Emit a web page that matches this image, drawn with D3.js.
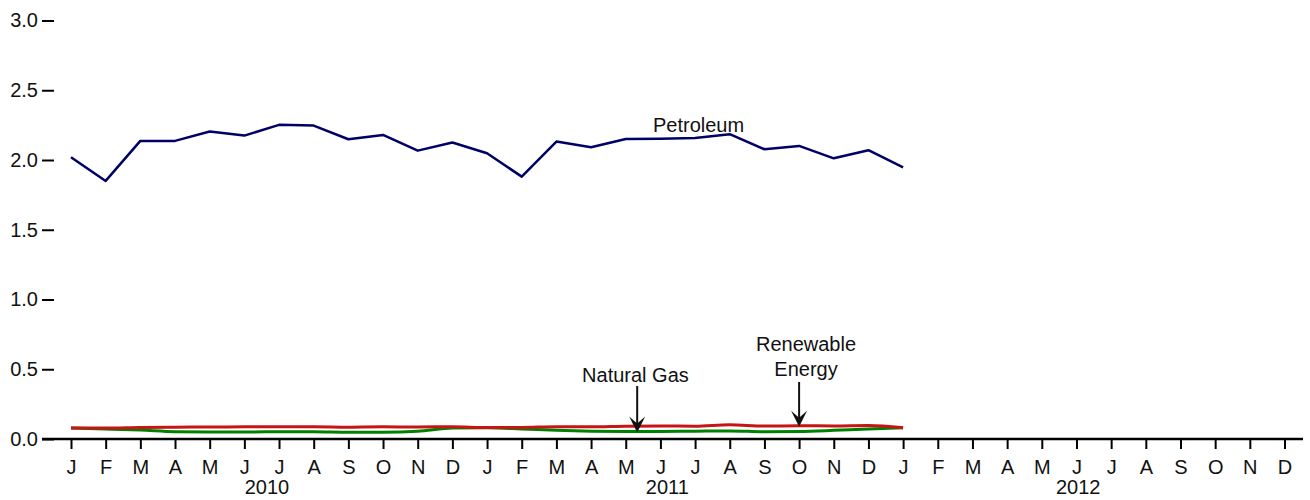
<!DOCTYPE html>
<html>
<head>
<meta charset="utf-8">
<script src="https://cdn.jsdelivr.net/npm/d3@7"></script>
<style>
  body { margin: 0; background: #fff; }
  svg { font-family: "Liberation Sans", Arial, sans-serif; }
</style>
</head>
<body>
<svg width="1310" height="500"></svg>
<script>
// monthly values, Jan 2010 .. Jan 2012 (quadrillion Btu)
var monthLetters = ["J","F","M","A","M","J","J","A","S","O","N","D"];
var years = [2010, 2011, 2012];
var yearLabelOffset = [5.65, 5.2, 5.05]; // month index within year where label is centered
var yTicks = [0, 0.5, 1.0, 1.5, 2.0, 2.5, 3.0];

var petroleum = [2.02, 1.85, 2.137, 2.137, 2.204, 2.175, 2.252, 2.247, 2.149, 2.18, 2.067, 2.125,
                 2.048, 1.881, 2.132, 2.091, 2.151, 2.153, 2.158, 2.185, 2.077, 2.101, 2.012, 2.07,
                 1.948];
var renewable = [0.078, 0.078, 0.083, 0.085, 0.086, 0.087, 0.088, 0.088, 0.085, 0.087, 0.086, 0.088,
                 0.082, 0.083, 0.088, 0.088, 0.092, 0.093, 0.092, 0.102, 0.093, 0.095, 0.094, 0.097,
                 0.080];
var naturalGas = [0.078, 0.072, 0.064, 0.052, 0.050, 0.050, 0.052, 0.052, 0.048, 0.048, 0.055, 0.078,
                  0.080, 0.072, 0.062, 0.056, 0.054, 0.054, 0.056, 0.058, 0.052, 0.054, 0.062, 0.072,
                  0.080];

var svg = d3.select("svg");

var x = d3.scaleLinear().domain([0, 35]).range([71, 1284.5]);
var y = d3.scaleLinear().domain([0, 3]).range([439, 20.5]);

// y axis: ticks only, no spine
var yAxis = d3.axisLeft(y)
  .tickValues(yTicks)
  .tickFormat(d3.format(".1f"))
  .tickSize(12)
  .tickPadding(4);

var yGroup = svg.append("g")
  .attr("transform", "translate(54,0)")
  .call(yAxis);
yGroup.select(".domain").remove();
yGroup.selectAll("line").attr("stroke", "#000").attr("stroke-width", 2);
yGroup.selectAll("text").style("font-size", "20px").attr("fill", "#111");

// x axis: one tick per month over three years
var xAxis = d3.axisBottom(x)
  .tickValues(d3.range(36))
  .tickFormat(function(d) { return monthLetters[d % 12]; })
  .tickSize(10)
  .tickPadding(11);

var xGroup = svg.append("g")
  .attr("transform", "translate(0," + y(0) + ")")
  .call(xAxis);
xGroup.select(".domain").remove();
xGroup.selectAll("line").attr("stroke", "#000").attr("stroke-width", 2);
xGroup.selectAll("text").style("font-size", "20px").attr("fill", "#111");

xGroup.append("line")
  .attr("x1", 42).attr("x2", 1303)
  .attr("y1", 0).attr("y2", 0)
  .attr("stroke", "#000")
  .attr("stroke-width", 2.5);

svg.selectAll("text.year")
  .data(years)
  .enter()
  .append("text")
  .attr("class", "year")
  .attr("x", function(d, i) { return x(i * 12 + yearLabelOffset[i]); })
  .attr("y", 494)
  .attr("text-anchor", "middle")
  .style("font-size", "20px")
  .attr("fill", "#111")
  .text(function(d) { return d; });

// lines
var straight = d3.line()
  .x(function(d, i) { return x(i); })
  .y(function(d) { return y(d); });

var smooth = d3.line()
  .x(function(d, i) { return x(i); })
  .y(function(d) { return y(d); })
  .curve(d3.curveMonotoneX);

svg.append("path")
  .datum(naturalGas)
  .attr("d", smooth)
  .attr("fill", "none")
  .attr("stroke", "#008000")
  .attr("stroke-width", 3);

svg.append("path")
  .datum(renewable)
  .attr("d", smooth)
  .attr("fill", "none")
  .attr("stroke", "#c81414")
  .attr("stroke-width", 3);

svg.append("path")
  .datum(petroleum)
  .attr("d", straight)
  .attr("fill", "none")
  .attr("stroke", "#000066")
  .attr("stroke-width", 2.5)
  .attr("stroke-linejoin", "round");

// annotations
svg.append("text")
  .attr("x", x(18.1))
  .attr("y", 132)
  .attr("text-anchor", "middle")
  .style("font-size", "20px")
  .attr("fill", "#111")
  .text("Petroleum");

svg.append("text")
  .attr("x", x(16.28))
  .attr("y", 382)
  .attr("text-anchor", "middle")
  .style("font-size", "20px")
  .attr("fill", "#111")
  .text("Natural Gas");

var renewLabel = svg.append("text")
  .attr("x", x(21.2))
  .attr("y", 351)
  .attr("text-anchor", "middle")
  .style("font-size", "20px")
  .attr("fill", "#111");
renewLabel.append("tspan").attr("x", x(21.2)).attr("dy", 0).text("Renewable");
renewLabel.append("tspan").attr("x", x(21.2)).attr("dy", 25).text("Energy");

var drawArrow = function(xPos, yTop, yTip) {
  svg.append("line")
    .attr("x1", xPos).attr("x2", xPos)
    .attr("y1", yTop).attr("y2", yTip - 5)
    .attr("stroke", "#111")
    .attr("stroke-width", 2);
  svg.append("path")
    .attr("transform", "translate(" + xPos + "," + yTip + ")")
    .attr("d", "M0,0 L-8,-16 L0,-9 L8,-16 Z")
    .attr("fill", "#111");
};

drawArrow(x(16.33), 386, y(naturalGas[16]) + 1);
drawArrow(x(21), 382, y(renewable[21]) + 1);
</script>
</body>
</html>
